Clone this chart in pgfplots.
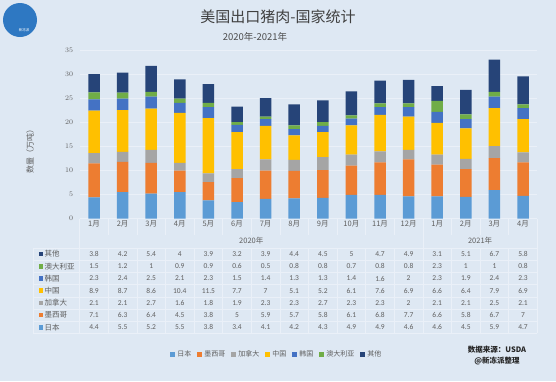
\documentclass[border=0pt]{standalone}
\usepackage{pgfplots}
\pgfplotsset{compat=1.18}
\usepackage{pgfplotstable}
\usepackage{fontspec}
\setmainfont{Carlito}
\newfontfamily\cjk{Noto Sans CJK SC}
\definecolor{bg}{HTML}{DEE8F3}
\definecolor{gl}{HTML}{EAF0F8}
\definecolor{txt}{HTML}{5F5F5F}
\definecolor{cjp}{HTML}{5B9BD5}
\definecolor{cmx}{HTML}{ED7D31}
\definecolor{cca}{HTML}{A5A5A5}
\definecolor{ccn}{HTML}{FFC000}
\definecolor{ckr}{HTML}{4472C4}
\definecolor{cau}{HTML}{70AD47}
\definecolor{cot}{HTML}{264478}
\definecolor{logo}{HTML}{2E78C2}

\pgfplotstableread{
x  jp  mx  ca  cn   kr  au  ot
0  4.4 7.1 2.1 8.9  2.3 1.5 3.8
1  5.5 6.3 2.1 8.7  2.4 1.2 4.2
2  5.2 6.4 2.7 8.6  2.5 1   5.4
3  5.5 4.5 1.6 10.4 2.1 0.9 4
4  3.8 3.8 1.8 11.5 2.3 0.9 3.9
5  3.4 5   1.9 7.7  1.5 0.6 3.2
6  4.1 5.9 2.3 7    1.4 0.5 3.9
7  4.2 5.7 2.3 5.1  1.3 0.8 4.4
8  4.3 5.8 2.7 5.2  1.3 0.8 4.5
9  4.9 6.1 2.3 6.1  1.4 0.7 5
10 4.9 6.8 2.3 7.6  1.6 0.8 4.7
11 4.6 7.7 2   6.9  2   0.8 4.9
12 4.6 6.6 2.1 6.6  2.3 2.3 3.1
13 4.5 5.8 2.1 6.4  1.9 1   5.1
14 5.9 6.7 2.5 7.9  2.4 1   6.7
15 4.7 7   2.1 6.9  2.3 0.8 5.8
}\data

\begin{document}
\begin{tikzpicture}
\fill[bg] (0,0) rectangle (556pt,-381pt);
\path[use as bounding box] (0,0) rectangle (556pt,-381pt);
% logo
\fill[logo] (20pt,-20pt) circle (17pt);
\node[text=white,font=\cjk\fontsize{3.5}{4}\selectfont] at (24pt,-30pt) {新冻派};
% titles
\node[text=black!75,font=\cjk\fontsize{15}{17}\selectfont] at (278pt,-17pt) {美国出口猪肉-国家统计};
\node[text=black!70,font=\cjk\fontsize{9.5}{11}\selectfont] at (255pt,-37pt) {2020年-2021年};
\node[rotate=90,text=txt,font=\cjk\fontsize{8}{9}\selectfont] at (30pt,-149pt) {数量（万吨）};

% table grid
\foreach \yy in {248,260.2,272.4,284.6,296.8,309,321.2,333.4}
  \draw[gl,line width=0.6pt] (33pt,-\yy pt) -- (537.3pt,-\yy pt);
\foreach \k in {0,...,16}{
  \pgfmathsetmacro\xx{79.7+28.6*\k}
  \draw[gl,line width=0.6pt] (\xx pt,-218.5pt) -- (\xx pt,-235pt);
  \draw[gl,line width=0.6pt] (\xx pt,-248pt) -- (\xx pt,-333.4pt);
}
\foreach \xx in {79.7,422.9,537.3}
  \draw[gl,line width=0.6pt] (\xx pt,-218.5pt) -- (\xx pt,-333.4pt);
\draw[gl,line width=0.6pt] (33pt,-248pt) -- (33pt,-333.4pt);

\begin{axis}[
  at={(79.7pt,-218.5pt)}, anchor=south west,
  scale only axis, width=457.6pt, height=168pt,
  xmin=-0.5, xmax=15.5, ymin=0, ymax=35,
  ybar stacked, bar width=11.5pt,
  ytick={0,5,...,35},
  ymajorgrids, grid style={gl, line width=0.6pt},
  axis line style={draw=none}, tick style={draw=none},
  yticklabel style={font=\fontsize{7.5}{8}\selectfont, text=txt, xshift=-3pt},
  xtick={0,...,15},
  xticklabels={1月,2月,3月,4月,5月,6月,7月,8月,9月,10月,11月,12月,1月,2月,3月,4月},
  xticklabel style={font=\cjk\fontsize{7.5}{8}\selectfont, text=txt, yshift=1pt},
  legend style={at={(0.431,-0.81)}, anchor=center, draw=none, fill=none,
    font=\cjk\fontsize{7}{8}\selectfont, text=txt, legend columns=-1,
    /tikz/every even column/.append style={column sep=4pt}},
  legend image code/.code={\fill[#1] (0pt,-2.5pt) rectangle (5pt,2.5pt);},
]
\addplot[fill=cjp,draw=none] table[x=x,y=jp]{\data};
\addplot[fill=cmx,draw=none] table[x=x,y=mx]{\data};
\addplot[fill=cca,draw=none] table[x=x,y=ca]{\data};
\addplot[fill=ccn,draw=none] table[x=x,y=cn]{\data};
\addplot[fill=ckr,draw=none] table[x=x,y=kr]{\data};
\addplot[fill=cau,draw=none] table[x=x,y=au]{\data};
\addplot[fill=cot,draw=none] table[x=x,y=ot]{\data};
\legend{日本,墨西哥,加拿大,中国,韩国,澳大利亚,其他}
\end{axis}

% year labels
\node[text=txt,font=\cjk\fontsize{7.5}{8}\selectfont] at (251.3pt,-241pt) {2020年};
\node[text=txt,font=\cjk\fontsize{7.5}{8}\selectfont] at (480.1pt,-241pt) {2021年};

% data table rows
\foreach \c/\lab/\col [count=\i from 0] in {ot/其他/cot,au/澳大利亚/cau,kr/韩国/ckr,cn/中国/ccn,ca/加拿大/cca,mx/墨西哥/cmx,jp/日本/cjp}{
  \pgfmathsetmacro\yy{254.1+12.2*\i}
  \fill[\col] (38.5pt,-\yy pt+2.3pt) rectangle (43.1pt,-\yy pt-2.3pt);
  \node[anchor=west,inner sep=0pt,text=txt,font=\cjk\fontsize{7.5}{8}\selectfont] at (44.5pt,-\yy pt) {\lab};
  \foreach \k in {0,...,15}{
    \pgfmathsetmacro\xx{94+28.6*\k}
    \pgfplotstablegetelem{\k}{\c}\of\data
    \node[text=txt,inner sep=0pt,font=\fontsize{7.5}{8}\selectfont] at (\xx pt,-\yy pt) {\pgfplotsretval};
  }
}

% source
\node[text=black!85,font=\cjk\bfseries\fontsize{7.5}{8}\selectfont] at (497pt,-350pt) {数据来源：USDA};
\node[text=black!85,font=\cjk\bfseries\fontsize{7.5}{8}\selectfont] at (497pt,-361.5pt) {@新冻派整理};
\end{tikzpicture}
\end{document}
